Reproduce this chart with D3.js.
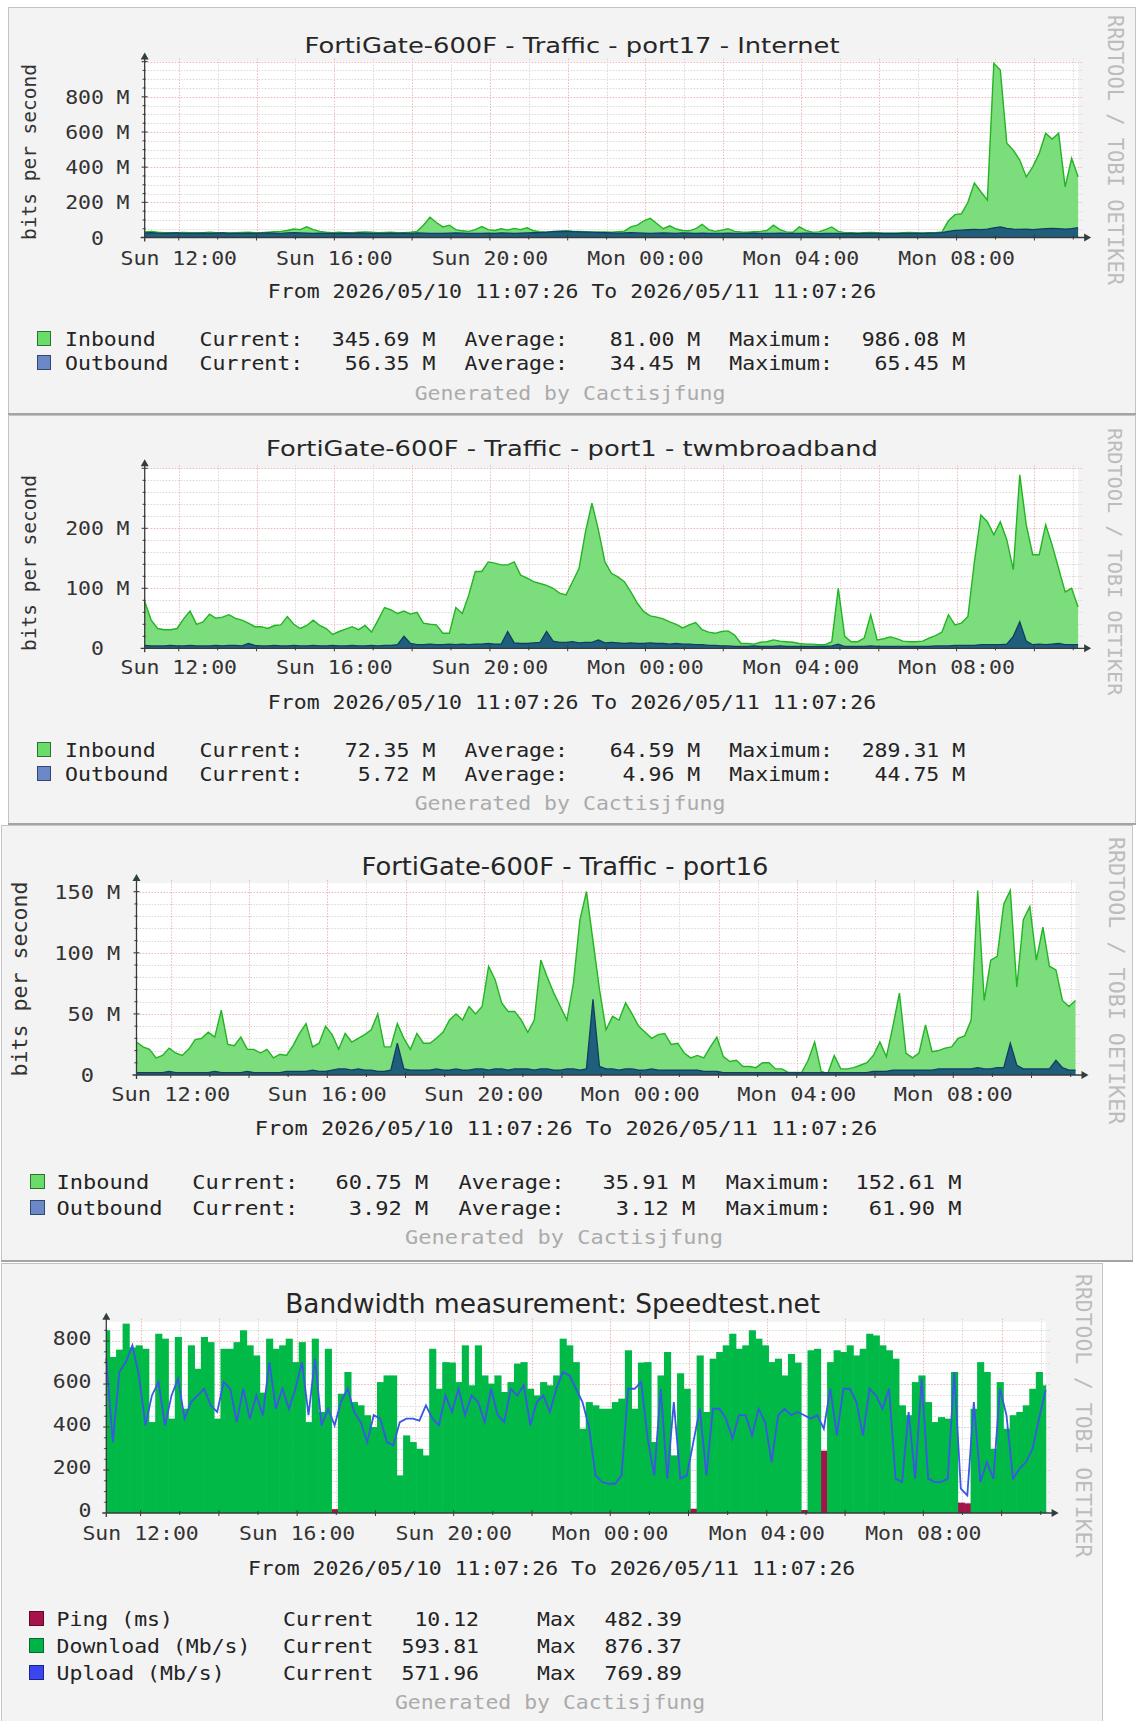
<!DOCTYPE html>
<html>
<meta charset="utf-8">
<style>
    body { margin: 0; background: #ffffff; }
    text { font-family: 'DejaVu Sans Mono', monospace; }
</style>
<body>
<svg id="chart" width="1138" height="1721"></svg>
<script src="https://d3js.org/d3.v7.min.js"></script>
<script>

// ---- data ----
const startTime = new Date(2026, 4, 10, 11, 7, 26)
const endTime = new Date(2026, 4, 11, 11, 7, 26)
const stepMinutes = 10

const titles = [
    "FortiGate-600F - Traffic - port17 - Internet",
    "FortiGate-600F - Traffic - port1 - twmbroadband",
    "FortiGate-600F - Traffic - port16",
    "Bandwidth measurement: Speedtest.net"
]

const trafficSeries = ["Inbound", "Outbound"]
const speedSeries = ["Ping (ms)", "Download (Mb/s)", "Upload (Mb/s)"]

const port17Ticks = [0, 200, 400, 600, 800]
const port1Ticks = [0, 100, 200]
const port16Ticks = [0, 50, 100, 150]
const speedTicks = [0, 200, 400, 600, 800]

const port17Stats = [["345.69 M", "81.00 M", "986.08 M"], ["56.35 M", "34.45 M", "65.45 M"]]
const port1Stats = [["72.35 M", "64.59 M", "289.31 M"], ["5.72 M", "4.96 M", "44.75 M"]]
const port16Stats = [["60.75 M", "35.91 M", "152.61 M"], ["3.92 M", "3.12 M", "61.90 M"]]
const speedStats = [["10.12", "482.39"], ["593.81", "876.37"], ["571.96", "769.89"]]

// one value every 10 minutes, Mbit/s
const port17In = [
    32, 35, 30, 28, 28, 27, 29, 28, 27, 28,
    30, 28, 27, 26, 28, 29, 30, 28, 27, 30,
    33, 35, 40, 48, 45, 61, 45, 35, 30, 28,
    30, 28, 27, 30, 32, 30, 28, 29, 30, 28,
    27, 30, 35, 70, 115, 85, 60, 70, 45, 38,
    35, 45, 62, 45, 40, 50, 42, 52, 45, 55,
    38, 33, 30, 34, 36, 38, 36, 35, 33, 30,
    32, 31, 30, 33, 36, 60, 70, 95, 109, 80,
    50, 66, 48, 40, 38, 50, 75, 45, 35, 42,
    50, 35, 32, 30, 33, 35, 40, 70, 45, 32,
    30, 60, 40, 30, 32, 45, 60, 35, 28, 27,
    26, 27, 28, 27, 26, 25, 26, 27, 28, 27,
    26, 27, 28, 32, 95, 130, 135, 200, 310, 260,
    213, 990, 952, 536, 497, 440, 345, 402, 478, 593,
    560, 593, 288, 450, 345
]
const port17Out = [
    26, 27, 25, 24, 25, 26, 24, 23, 24, 25,
    24, 25, 26, 24, 23, 24, 25, 24, 25, 26,
    25, 24, 26, 27, 26, 25, 24, 25, 24, 23,
    24, 25, 24, 26, 25, 24, 23, 24, 25, 24,
    25, 24, 26, 25, 24, 23, 24, 25, 26, 25,
    24, 23, 24, 25, 24, 26, 25, 24, 25, 26,
    27, 28, 30, 33, 35, 34, 33, 32, 31, 30,
    28, 27, 26, 25, 26, 27, 26, 25, 24, 25,
    26, 25, 24, 26, 25, 24, 25, 24, 23, 24,
    25, 24, 23, 24, 25, 24, 23, 24, 25, 24,
    23, 24, 25, 23, 22, 23, 24, 23, 22, 23,
    22, 23, 24, 23, 22, 23, 22, 23, 24, 23,
    24, 25, 26, 28, 35, 40, 42, 44, 46, 45,
    48, 55, 60, 52, 48, 46, 47, 45, 48, 50,
    52, 50, 48, 50, 56
]
const port1In = [
    78, 47, 33, 31, 31, 33, 49, 62, 40, 44,
    57, 50, 52, 56, 50, 47, 42, 36, 36, 33,
    38, 39, 53, 40, 33, 38, 47, 38, 33, 23,
    28, 32, 36, 31, 38, 27, 47, 68, 64, 58,
    62, 57, 60, 42, 40, 39, 25, 25, 68, 58,
    89, 128, 128, 144, 142, 139, 139, 144, 122, 117,
    111, 108, 105, 100, 92, 89, 111, 133, 194, 242,
    197, 144, 125, 119, 111, 94, 75, 61, 54, 52,
    49, 44, 40, 34, 39, 43, 31, 27, 25, 28,
    29, 22, 8, 8, 7, 10, 11, 14, 12, 11,
    10, 8, 7, 7, 6, 6, 11, 100, 20, 11,
    11, 17, 56, 14, 16, 19, 16, 12, 11, 11,
    12, 17, 21, 27, 56, 39, 42, 53, 144, 222,
    211, 189, 211, 181, 131, 289, 206, 156, 156, 206,
    172, 133, 94, 100, 69
]
const port1Out = [
    5, 4, 4, 4, 5, 4, 4, 5, 4, 4,
    4, 5, 4, 5, 5, 4, 8, 5, 4, 4,
    5, 4, 4, 5, 4, 4, 5, 4, 4, 5,
    4, 4, 5, 4, 4, 5, 4, 5, 5, 6,
    20, 8, 6, 6, 7, 6, 6, 7, 6, 7,
    6, 7, 7, 8, 7, 7, 28, 9, 8, 8,
    9, 10, 28, 12, 10, 10, 11, 9, 10, 10,
    14, 9, 10, 9, 8, 9, 8, 8, 9, 8,
    8, 7, 8, 7, 7, 6, 6, 5, 5, 4,
    4, 3, 3, 3, 4, 3, 3, 3, 4, 3,
    3, 3, 3, 3, 3, 3, 4, 7, 3, 3,
    3, 3, 4, 3, 3, 3, 3, 3, 3, 3,
    3, 3, 4, 4, 4, 5, 5, 5, 5, 6,
    6, 6, 6, 7, 20, 44, 12, 6, 7, 6,
    7, 8, 6, 6, 6
]
const port16In = [
    27, 23, 21, 14, 16, 22, 18, 16, 21, 29,
    30, 35, 31, 53, 25, 24, 31, 21, 21, 18,
    21, 14, 17, 16, 24, 34, 42, 23, 26, 40,
    33, 21, 34, 27, 30, 33, 37, 50, 23, 23,
    42, 30, 21, 34, 26, 26, 30, 35, 45, 50,
    45, 56, 50, 56, 89, 78, 59, 52, 52, 45,
    35, 45, 94, 80, 67, 56, 45, 75, 127, 150,
    110, 70, 37, 48, 45, 59, 50, 40, 35, 30,
    33, 34, 25, 26, 18, 14, 16, 14, 23, 31,
    15, 11, 12, 7, 7, 6, 10, 10, 5, 5,
    2, 2, 2, 12, 27, 3, 1, 16, 5, 5,
    6, 8, 10, 16, 27, 15, 40, 67, 18, 14,
    18, 41, 19, 20, 22, 23, 30, 32, 45, 151,
    61, 94, 97, 140, 151, 72, 127, 138, 94, 121,
    89, 86, 61, 56, 61
]
const port16Out = [
    2, 2, 2, 2, 2, 3, 2, 2, 2, 2,
    2, 2, 3, 2, 2, 2, 2, 3, 2, 2,
    2, 2, 2, 3, 3, 3, 3, 4, 3, 3,
    4, 5, 5, 4, 5, 4, 4, 3, 3, 4,
    26, 5, 4, 4, 4, 4, 5, 4, 4, 5,
    4, 4, 5, 5, 4, 5, 5, 4, 5, 5,
    5, 4, 5, 5, 4, 4, 5, 5, 4, 5,
    62, 7, 5, 5, 4, 5, 5, 4, 4, 5,
    4, 4, 4, 4, 4, 4, 4, 3, 3, 3,
    2, 2, 2, 2, 2, 2, 2, 2, 2, 2,
    2, 2, 2, 2, 2, 2, 2, 2, 2, 2,
    2, 2, 2, 3, 3, 3, 4, 4, 4, 4,
    4, 4, 4, 5, 5, 5, 5, 5, 5, 6,
    5, 5, 6, 6, 26, 8, 5, 5, 5, 5,
    5, 12, 6, 4, 4
]
const speedPing = [
    10, 10, 11, 10, 10, 10, 10, 11, 10, 10,
    10, 10, 10, 10, 11, 10, 10, 10, 10, 10,
    10, 11, 10, 10, 10, 10, 10, 10, 11, 10,
    10, 10, 10, 10, 10, 18, 10, 10, 10, 11,
    10, 10, 10, 10, 10, 10, 11, 10, 10, 10,
    10, 10, 10, 11, 10, 10, 10, 10, 10, 10,
    11, 10, 10, 10, 10, 10, 10, 10, 11, 10,
    10, 10, 10, 10, 10, 11, 10, 10, 10, 10,
    10, 10, 11, 10, 10, 10, 10, 10, 10, 10,
    20, 10, 10, 10, 11, 10, 10, 10, 10, 10,
    10, 10, 10, 11, 10, 10, 10, 14, 10, 10,
    290, 10, 10, 10, 10, 11, 10, 10, 10, 10,
    10, 10, 11, 10, 10, 10, 10, 10, 10, 10,
    10, 48, 45, 10, 10, 10, 11, 10, 10, 10,
    10, 10, 10, 10, 10
]
const speedDown = [
    850, 726, 760, 881, 770, 780, 764, 423, 834, 811,
    439, 819, 485, 780, 671, 819, 795, 439, 764, 764,
    795, 850, 780, 733, 560, 811, 764, 780, 811, 702,
    795, 423, 811, 470, 764, null, 555, 656, 516, 501,
    455, 400, 609, 640, 640, 175, 361, 330, 299, 268,
    764, 578, 702, 700, 609, 780, 594, 780, 640, 602,
    640, 563, 609, 695, 702, 578, 547, 609, 594, 640,
    811, 780, 702, 392, 516, 501, 485, 485, 516, 532,
    757, 485, 700, 702, 330, 640, 749, 268, 650, 578,
    null, 733, 470, 718, 749, 780, 834, 764, 780, 850,
    811, 780, 702, 718, 640, 740, 700, null, 757, 764,
    null, 702, 757, 749, 780, 733, 764, 834, 826, 780,
    757, 718, 501, 455, 609, 640, 516, 423, 446, 439,
    656, null, null, 485, 702, 656, 299, 609, 392, 455,
    470, 501, 578, 656, 594
]
const speedUp = [
    718, 330, 656, 702, 780, 640, 408, 547, 609, 408,
    547, 625, 439, 516, 547, 578, 501, 470, 609, 578,
    423, 578, 439, 547, 455, 702, 485, 578, 485, 578,
    702, 455, 718, 408, 485, 408, 520, 578, 470, 423,
    330, 455, 439, 330, 315, 423, 439, 439, 430, 501,
    439, 408, 547, 470, 578, 455, 547, 516, 423, 578,
    455, 423, 578, 547, 594, 408, 516, 547, 470, 578,
    656, 640, 578, 516, 400, 175, 144, 136, 136, 175,
    578, 578, 609, 346, 175, 578, 160, 516, 160, 175,
    330, 485, 175, 485, 485, 439, 346, 455, 455, 361,
    485, 423, 237, 455, 485, 455, 470, 455, 439, 455,
    392, 578, 361, 578, 578, 516, 361, 578, 547, 485,
    578, 160, 144, 470, 160, 625, 160, 144, 144, 160,
    656, 113, 82, 516, 144, 237, 160, 578, 455, 160,
    206, 237, 299, 439, 572
]

// ---- layout ----
const panel17 = {
    box: [8, 7, 1136, 415], x0: 144.7, x1: 1078.1, y0: 237.5, yTop: 61.6, yMax: 1000, minor: 50, unit: "M",
    fs: 19.3, sx: 1.115, labOff: 7,
    title: { cx: 572, base: 52.5, w: 535, fs: 21.5 },
    ylab: { x: 36, cy: 152, fs: 19.5 },
    numEnd: 104, unitX: 116.5, xLabBase: 265, fromBase: 298, fromCx: 572,
    rows: [346, 370],
    lg: { sq: 37, sqW: 13, name: 65, c: 199.6, cEnd: 435.4, a: 464.4, aEnd: 700.3, m: 729.3, mEnd: 965.2 },
    genBase: 400, genCx: 570, rrd: { x: 1108, y: 15, fs: 20.4 }
}
const panel1 = {
    box: [8, 415, 1136, 825], x0: 144.7, x1: 1078.1, y0: 648.3, yTop: 468.3, yMax: 300, minor: 20, unit: "M",
    fs: 19.3, sx: 1.115, labOff: 7,
    title: { cx: 572, base: 456, w: 612, fs: 21.5 },
    ylab: { x: 36, cy: 563, fs: 19.5 },
    numEnd: 104, unitX: 116.5, xLabBase: 674, fromBase: 708.5, fromCx: 572,
    rows: [757, 781],
    lg: { sq: 37, sqW: 13, name: 65, c: 199.6, cEnd: 435.4, a: 464.4, aEnd: 700.3, m: 729.3, mEnd: 965.2 },
    genBase: 810, genCx: 570, rrd: { x: 1108, y: 428, fs: 20.2 }
}
const panel16 = {
    box: [1, 825, 1133, 1262], x0: 136.5, x1: 1075.5, y0: 1075, yTop: 883.1, yMax: 157, minor: 10, unit: "M",
    fs: 20, sx: 1.1, labOff: 7,
    title: { cx: 565, base: 875, w: 407, fs: 25 },
    ylab: { x: 27, cy: 979, fs: 21.6 },
    numEnd: 94, unitX: 107, xLabBase: 1101, fromBase: 1134.5, fromCx: 566,
    rows: [1189, 1215],
    lg: { sq: 30, sqW: 14, name: 56.6, c: 192.3, cEnd: 428.2, a: 458.6, aEnd: 695.2, m: 725.7, mEnd: 961.5 },
    genBase: 1244, genCx: 564, rrd: { x: 1108.5, y: 837, fs: 21.7 }
}
const panelSpeed = {
    box: [1, 1263, 1103, 1724], x0: 106.3, x1: 1045.6, y0: 1513, yTop: 1321.7, yMax: 890, minor: 50, unit: "",
    fs: 19, sx: 1.13, labOff: 4,
    title: { cx: 552.7, base: 1312.7, w: 535, fs: 26 },
    ylab: null,
    numEnd: 91.5, unitX: 0, xLabBase: 1540, fromBase: 1575, fromCx: 551.6,
    rows: [1626, 1653, 1680],
    lg: { sq: 29, sqW: 14, name: 56.6, c: 283, cEnd: 479, m: 537, mEnd: 682 },
    genBase: 1709, genCx: 550, rrd: { x: 1076, y: 1274, fs: 21.4 }
}

// ---- helpers ----
const chart = d3.select("#chart")
const timeAt = i => new Date(startTime.getTime() + i * stepMinutes * 60000)
const fmtRange = d3.timeFormat("%Y/%m/%d %H:%M:%S")
const fmtTick = d3.timeFormat("%a %H:%M")
const rangeText = "From " + fmtRange(startTime) + " To " + fmtRange(endTime)

function txt(g, x, y, s, o) {
    return g.append("text")
        .attr("transform", "translate(" + x + "," + y + ") scale(" + o.sx + ",1)")
        .attr("text-anchor", o.anchor || "start")
        .style("font-size", o.fs + "px")
        .attr("fill", o.color || "#2b2b2b")
        .text(s)
}

function frame(p) {
    const g = chart.append("g")
    const [bx0, by0, bx1, by1] = p.box
    g.append("rect")
        .attr("x", bx0 + 0.5).attr("y", by0 + 0.5)
        .attr("width", bx1 - bx0 - 1).attr("height", by1 - by0 - 1)
        .attr("fill", "#f3f3f3").attr("stroke", "#c4c4c4")
    g.append("line")
        .attr("x1", bx0).attr("x2", bx1).attr("y1", by1 - 1).attr("y2", by1 - 1)
        .attr("stroke", "#a4a4a4").attr("stroke-width", 2)

    const x = d3.scaleTime().domain([startTime, endTime]).range([p.x0, p.x1])
    const y = d3.scaleLinear().domain([0, p.yMax]).range([p.y0, p.yTop])

    g.append("rect")
        .attr("x", p.x0).attr("y", p.yTop)
        .attr("width", p.x1 - p.x0).attr("height", p.y0 - p.yTop)
        .attr("fill", "#ffffff")

    const grid = g.append("g")
    const data = g.append("g")
    return { g, grid, data, x, y }
}

function decorate(p, f, ticks, title) {
    const { g, grid, x, y } = f
    const o = { fs: p.fs, sx: p.sx }
    const major = ticks[1] - ticks[0]
    const isMajor = v => Math.abs(v / major - Math.round(v / major)) < 1e-6
    const yVals = d3.range(p.minor, p.yMax + 1e-6, p.minor)
    const hours = x.ticks(d3.timeHour.every(1))

    grid.selectAll(".hgrid")
        .data(yVals)
        .join("line")
        .attr("x1", p.x0 - 3).attr("x2", p.x1 + 4)
        .attr("y1", d => Math.round(y(d)) + 0.5).attr("y2", d => Math.round(y(d)) + 0.5)
        .attr("stroke", d => isMajor(d) ? "#ecb8b8" : "#d8d8d8")
        .attr("stroke-dasharray", "1.5,1.5")

    grid.selectAll(".vgrid")
        .data(hours)
        .join("line")
        .attr("x1", d => Math.round(x(d)) + 0.5).attr("x2", d => Math.round(x(d)) + 0.5)
        .attr("y1", p.yTop - 3).attr("y2", p.y0)
        .attr("stroke", d => d.getHours() % 2 === 0 ? "#ecb8b8" : "#d8d8d8")
        .attr("stroke-dasharray", "1.5,1.5")

    // axes with arrows
    const axis = g.append("g").attr("stroke", "#3a3a3a").attr("fill", "#2f3f3f")
    axis.append("line").attr("x1", p.x0 - 4).attr("x2", p.x1 + 7).attr("y1", p.y0).attr("y2", p.y0).attr("stroke-width", 1.3)
    axis.append("line").attr("x1", p.x0).attr("x2", p.x0).attr("y1", p.y0 + 4).attr("y2", p.yTop - 3).attr("stroke-width", 1.3)
    axis.append("path").attr("stroke", "none")
        .attr("d", "M" + (p.x1 + 6) + "," + (p.y0 - 4) + "L" + (p.x1 + 13) + "," + p.y0 + "L" + (p.x1 + 6) + "," + (p.y0 + 4) + "Z")
    axis.append("path").attr("stroke", "none")
        .attr("d", "M" + (p.x0 - 4) + "," + (p.yTop - 2) + "L" + p.x0 + "," + (p.yTop - 9) + "L" + (p.x0 + 4) + "," + (p.yTop - 2) + "Z")

    axis.selectAll(".xt")
        .data(hours)
        .join("line")
        .attr("x1", d => x(d)).attr("x2", d => x(d))
        .attr("y1", d => p.y0 - (d.getHours() % 2 === 0 ? 3 : 2))
        .attr("y2", d => p.y0 + (d.getHours() % 2 === 0 ? 3 : 2))
    axis.selectAll(".yt")
        .data(yVals)
        .join("line")
        .attr("x1", d => p.x0 - (isMajor(d) ? 3 : 2)).attr("x2", d => p.x0 + (isMajor(d) ? 3 : 1))
        .attr("y1", d => y(d)).attr("y2", d => y(d))

    // tick labels
    ticks.forEach(v => {
        txt(g, p.numEnd, y(v) + p.labOff, String(v), { ...o, anchor: "end", color: "#333" })
        if (v > 0 && p.unit) txt(g, p.unitX, y(v) + p.labOff, p.unit, { ...o, color: "#333" })
    })
    x.ticks(d3.timeHour.every(4)).forEach(d => {
        txt(g, x(d), p.xLabBase, fmtTick(d), { ...o, anchor: "middle", color: "#333" })
    })

    // title, axis title, footer texts
    g.append("text")
        .attr("x", p.title.cx - p.title.w / 2).attr("y", p.title.base)
        .attr("textLength", p.title.w).attr("lengthAdjust", "spacingAndGlyphs")
        .style("font-family", "'DejaVu Sans', sans-serif")
        .style("font-size", p.title.fs + "px")
        .attr("fill", "#262626")
        .text(title)

    if (p.ylab) {
        g.append("text")
            .attr("transform", "translate(" + p.ylab.x + "," + p.ylab.cy + ") rotate(-90)")
            .attr("text-anchor", "middle")
            .style("font-size", p.ylab.fs + "px")
            .attr("fill", "#333")
            .text("bits per second")
    }

    txt(g, p.fromCx, p.fromBase, rangeText, { ...o, anchor: "middle", color: "#262626" })
    txt(g, p.genCx, p.genBase, "Generated by Cactisjfung", { ...o, anchor: "middle", color: "#ababab" })

    g.append("text")
        .attr("transform", "translate(" + p.rrd.x + "," + p.rrd.y + ") rotate(90)")
        .style("font-size", p.rrd.fs + "px")
        .attr("fill", "#bcbcbc")
        .text("RRDTOOL / TOBI OETIKER")
}

function trafficPanel(p, inbound, outbound, ticks, stats, title) {
    const f = frame(p)
    const { data, x, y } = f
    const area = d3.area().x((d, i) => x(timeAt(i))).y0(p.y0).y1(d => y(d))
    const line = d3.line().x((d, i) => x(timeAt(i))).y(d => y(d))

    data.append("path").datum(inbound).attr("d", area).attr("fill", "#7bdd7b")
    data.append("path").datum(inbound).attr("d", line)
        .attr("fill", "none").attr("stroke", "#22b422").attr("stroke-width", 1.4)
    data.append("path").datum(outbound).attr("d", area).attr("fill", "#1f5f7b")
    data.append("path").datum(outbound).attr("d", line)
        .attr("fill", "none").attr("stroke", "#123d64").attr("stroke-width", 1.3)

    decorate(p, f, ticks, title)

    const o = { fs: p.fs, sx: p.sx, color: "#232323" }
    const fills = ["#69dc69", "#6b89c6"]
    const edges = ["#2f6f2f", "#33466e"]
    trafficSeries.forEach((name, r) => {
        const yb = p.rows[r]
        f.g.append("rect")
            .attr("x", p.lg.sq + 0.5).attr("y", yb - 14.5)
            .attr("width", p.lg.sqW).attr("height", 14)
            .attr("fill", fills[r]).attr("stroke", edges[r])
        txt(f.g, p.lg.name, yb, name, o)
        txt(f.g, p.lg.c, yb, "Current:", o)
        txt(f.g, p.lg.cEnd, yb, stats[r][0], { ...o, anchor: "end" })
        txt(f.g, p.lg.a, yb, "Average:", o)
        txt(f.g, p.lg.aEnd, yb, stats[r][1], { ...o, anchor: "end" })
        txt(f.g, p.lg.m, yb, "Maximum:", o)
        txt(f.g, p.lg.mEnd, yb, stats[r][2], { ...o, anchor: "end" })
    })
}

function speedPanel(p, ping, down, up, ticks, stats, title) {
    const f = frame(p)
    const { data, x, y } = f
    const half = stepMinutes * 30000
    const left = i => Math.max(p.x0, x(new Date(timeAt(i).getTime() - half)))
    const right = i => Math.min(p.x1, x(new Date(timeAt(i).getTime() + half)))

    const bars = (values, color) => data.append("g")
        .selectAll("rect")
        .data(values.map((v, i) => ({ v, i })).filter(d => d.v != null))
        .join("rect")
        .attr("x", d => left(d.i))
        .attr("width", d => right(d.i) - left(d.i) + 0.6)
        .attr("y", d => y(d.v))
        .attr("height", d => p.y0 - y(d.v))
        .attr("fill", color)

    bars(ping, "#a5134b")
    bars(down, "#00b946")
    data.append("path").datum(up)
        .attr("d", d3.line().x((d, i) => x(timeAt(i))).y(d => y(d)))
        .attr("fill", "none").attr("stroke", "#3a58e4").attr("stroke-width", 1.8)

    decorate(p, f, ticks, title)

    const o = { fs: p.fs, sx: p.sx, color: "#232323" }
    const fills = ["#a8124a", "#00b347", "#3a46f0"]
    const edges = ["#5e0a29", "#07672c", "#1c2486"]
    speedSeries.forEach((name, r) => {
        const yb = p.rows[r]
        f.g.append("rect")
            .attr("x", p.lg.sq + 0.5).attr("y", yb - 14.5)
            .attr("width", p.lg.sqW).attr("height", 14)
            .attr("fill", fills[r]).attr("stroke", edges[r])
        txt(f.g, p.lg.name, yb, name, o)
        txt(f.g, p.lg.c, yb, "Current", o)
        txt(f.g, p.lg.cEnd, yb, stats[r][0], { ...o, anchor: "end" })
        txt(f.g, p.lg.m, yb, "Max", o)
        txt(f.g, p.lg.mEnd, yb, stats[r][1], { ...o, anchor: "end" })
    })
}

trafficPanel(panel17, port17In, port17Out, port17Ticks, port17Stats, titles[0])
trafficPanel(panel1, port1In, port1Out, port1Ticks, port1Stats, titles[1])
trafficPanel(panel16, port16In, port16Out, port16Ticks, port16Stats, titles[2])
speedPanel(panelSpeed, speedPing, speedDown, speedUp, speedTicks, speedStats, titles[3])

</script>
</body>
</html>
